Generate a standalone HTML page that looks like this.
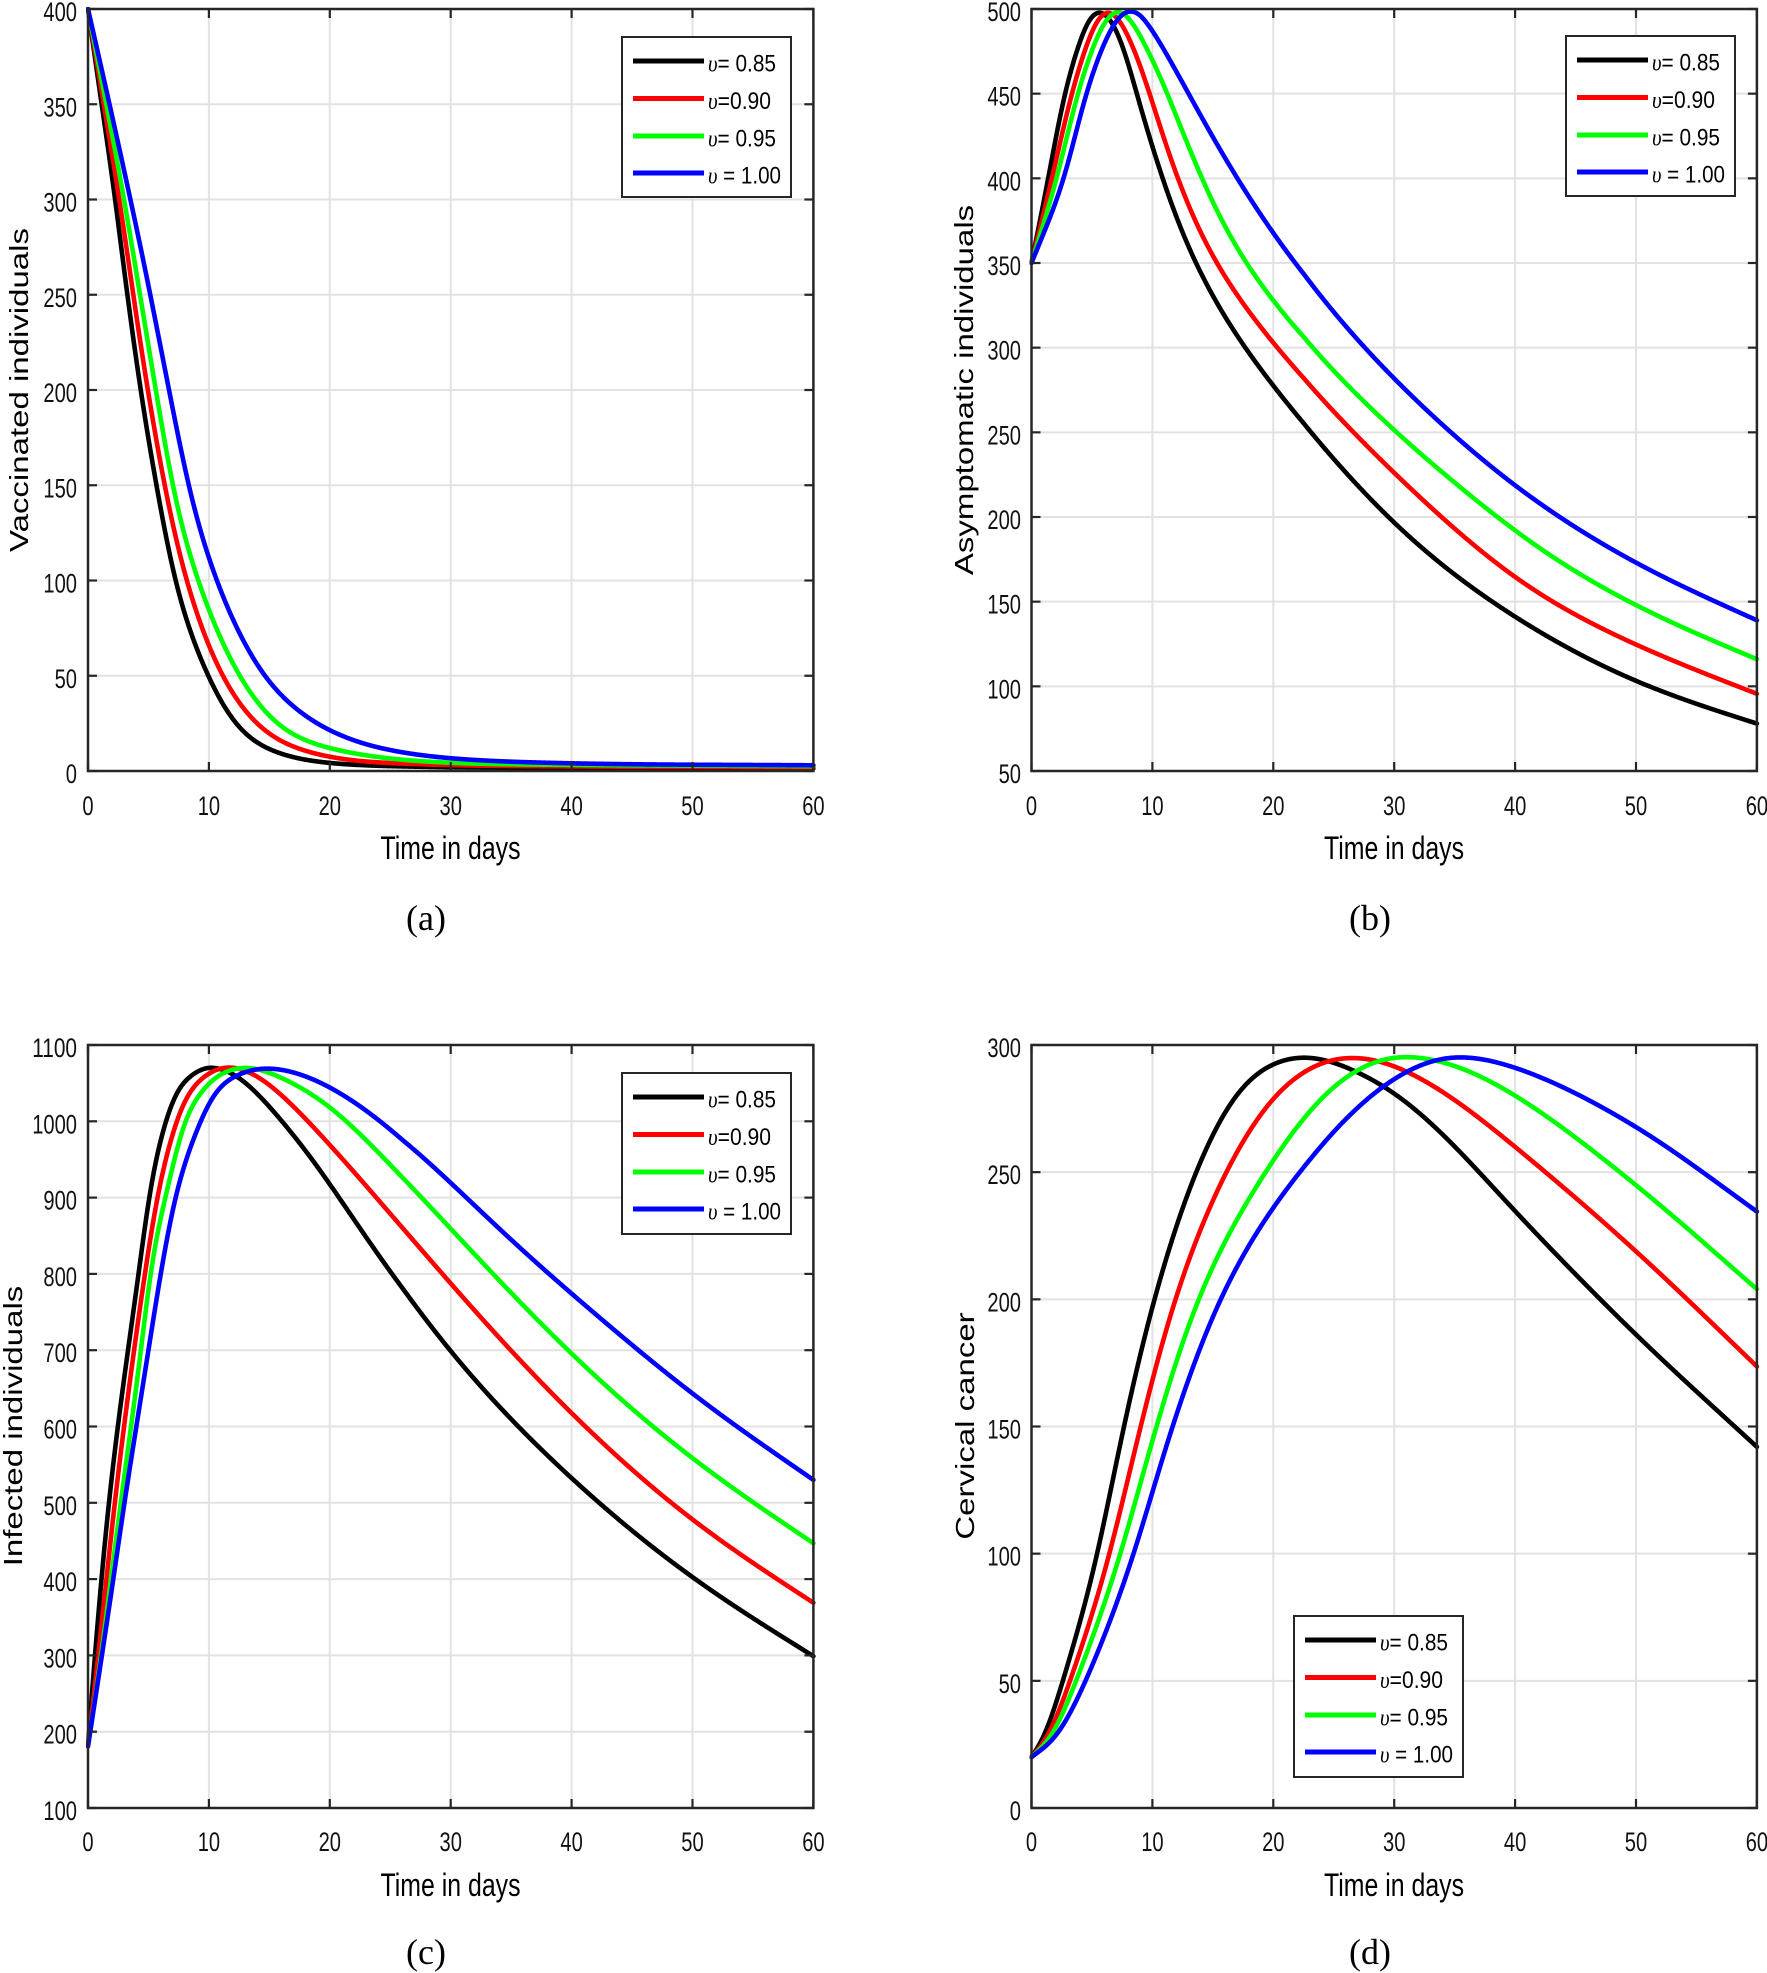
<!DOCTYPE html>
<html><head><meta charset="utf-8"><style>
html,body{margin:0;padding:0;background:#fff;}
svg{display:block;}
.tk{font-family:"Liberation Sans",Arial,sans-serif;font-size:27px;fill:#111;}
.xl{font-family:"Liberation Sans",Arial,sans-serif;font-size:32px;fill:#000;}
.yl{font-family:"Liberation Sans",Arial,sans-serif;font-size:33px;fill:#000;}
.sub{font-family:"Liberation Serif","Times New Roman",serif;font-size:36px;fill:#000;}
.lg{font-family:"Liberation Sans",Arial,sans-serif;font-size:24px;fill:#000;}
.up{font-family:"Liberation Serif","Times New Roman",serif;font-style:italic;}
</style></head><body>
<svg id="s" width="1767" height="1973" viewBox="0 0 1767 1973" xmlns="http://www.w3.org/2000/svg">
<rect x="0" y="0" width="1767" height="1973" fill="#fff"/>
<defs>
<clipPath id="ca"><rect x="86" y="7" width="730" height="766"/></clipPath>
<clipPath id="cb"><rect x="1029.5" y="7" width="730" height="766"/></clipPath>
<clipPath id="cc"><rect x="86" y="1043" width="730" height="767"/></clipPath>
<clipPath id="cd"><rect x="1029.5" y="1043" width="730" height="767"/></clipPath>
</defs>
<g id="grid"></g>
<g id="curves"></g>
<g id="axes"></g>

<!-- Y tick labels panel a -->
<g class="tk" text-anchor="end">
<text x="77" y="783" textLength="11.2" lengthAdjust="spacingAndGlyphs">0</text>
<text x="77" y="687.75" textLength="22.4" lengthAdjust="spacingAndGlyphs">50</text>
<text x="77" y="592.5" textLength="33.6" lengthAdjust="spacingAndGlyphs">100</text>
<text x="77" y="497.25" textLength="33.6" lengthAdjust="spacingAndGlyphs">150</text>
<text x="77" y="402" textLength="33.6" lengthAdjust="spacingAndGlyphs">200</text>
<text x="77" y="306.75" textLength="33.6" lengthAdjust="spacingAndGlyphs">250</text>
<text x="77" y="211.5" textLength="33.6" lengthAdjust="spacingAndGlyphs">300</text>
<text x="77" y="116.25" textLength="33.6" lengthAdjust="spacingAndGlyphs">350</text>
<text x="77" y="21" textLength="33.6" lengthAdjust="spacingAndGlyphs">400</text>
</g>
<!-- Y tick labels panel b -->
<g class="tk" text-anchor="end">
<text x="1021" y="783" textLength="22.4" lengthAdjust="spacingAndGlyphs">50</text>
<text x="1021" y="698.3" textLength="33.6" lengthAdjust="spacingAndGlyphs">100</text>
<text x="1021" y="613.7" textLength="33.6" lengthAdjust="spacingAndGlyphs">150</text>
<text x="1021" y="529" textLength="33.6" lengthAdjust="spacingAndGlyphs">200</text>
<text x="1021" y="444.3" textLength="33.6" lengthAdjust="spacingAndGlyphs">250</text>
<text x="1021" y="359.7" textLength="33.6" lengthAdjust="spacingAndGlyphs">300</text>
<text x="1021" y="275" textLength="33.6" lengthAdjust="spacingAndGlyphs">350</text>
<text x="1021" y="190.3" textLength="33.6" lengthAdjust="spacingAndGlyphs">400</text>
<text x="1021" y="105.7" textLength="33.6" lengthAdjust="spacingAndGlyphs">450</text>
<text x="1021" y="21" textLength="33.6" lengthAdjust="spacingAndGlyphs">500</text>
</g>
<!-- Y tick labels panel c -->
<g class="tk" text-anchor="end">
<text x="77" y="1820" textLength="33.6" lengthAdjust="spacingAndGlyphs">100</text>
<text x="77" y="1743.7" textLength="33.6" lengthAdjust="spacingAndGlyphs">200</text>
<text x="77" y="1667.4" textLength="33.6" lengthAdjust="spacingAndGlyphs">300</text>
<text x="77" y="1591.1" textLength="33.6" lengthAdjust="spacingAndGlyphs">400</text>
<text x="77" y="1514.8" textLength="33.6" lengthAdjust="spacingAndGlyphs">500</text>
<text x="77" y="1438.5" textLength="33.6" lengthAdjust="spacingAndGlyphs">600</text>
<text x="77" y="1362.2" textLength="33.6" lengthAdjust="spacingAndGlyphs">700</text>
<text x="77" y="1285.9" textLength="33.6" lengthAdjust="spacingAndGlyphs">800</text>
<text x="77" y="1209.6" textLength="33.6" lengthAdjust="spacingAndGlyphs">900</text>
<text x="77" y="1133.3" textLength="44.8" lengthAdjust="spacingAndGlyphs">1000</text>
<text x="77" y="1057" textLength="44.8" lengthAdjust="spacingAndGlyphs">1100</text>
</g>
<!-- Y tick labels panel d -->
<g class="tk" text-anchor="end">
<text x="1021" y="1820" textLength="11.2" lengthAdjust="spacingAndGlyphs">0</text>
<text x="1021" y="1692.8" textLength="22.4" lengthAdjust="spacingAndGlyphs">50</text>
<text x="1021" y="1565.7" textLength="33.6" lengthAdjust="spacingAndGlyphs">100</text>
<text x="1021" y="1438.5" textLength="33.6" lengthAdjust="spacingAndGlyphs">150</text>
<text x="1021" y="1311.3" textLength="33.6" lengthAdjust="spacingAndGlyphs">200</text>
<text x="1021" y="1184.2" textLength="33.6" lengthAdjust="spacingAndGlyphs">250</text>
<text x="1021" y="1057" textLength="33.6" lengthAdjust="spacingAndGlyphs">300</text>
</g>

<!-- X tick labels -->
<g class="tk" text-anchor="middle">
<text x="88" y="815" textLength="11.2" lengthAdjust="spacingAndGlyphs">0</text>
<text x="208.9" y="815" textLength="22.4" lengthAdjust="spacingAndGlyphs">10</text>
<text x="329.8" y="815" textLength="22.4" lengthAdjust="spacingAndGlyphs">20</text>
<text x="450.75" y="815" textLength="22.4" lengthAdjust="spacingAndGlyphs">30</text>
<text x="571.6" y="815" textLength="22.4" lengthAdjust="spacingAndGlyphs">40</text>
<text x="692.5" y="815" textLength="22.4" lengthAdjust="spacingAndGlyphs">50</text>
<text x="813.4" y="815" textLength="22.4" lengthAdjust="spacingAndGlyphs">60</text>

<text x="1031.5" y="815" textLength="11.2" lengthAdjust="spacingAndGlyphs">0</text>
<text x="1152.4" y="815" textLength="22.4" lengthAdjust="spacingAndGlyphs">10</text>
<text x="1273.3" y="815" textLength="22.4" lengthAdjust="spacingAndGlyphs">20</text>
<text x="1394.25" y="815" textLength="22.4" lengthAdjust="spacingAndGlyphs">30</text>
<text x="1515.1" y="815" textLength="22.4" lengthAdjust="spacingAndGlyphs">40</text>
<text x="1636" y="815" textLength="22.4" lengthAdjust="spacingAndGlyphs">50</text>
<text x="1756.9" y="815" textLength="22.4" lengthAdjust="spacingAndGlyphs">60</text>

<text x="88" y="1851" textLength="11.2" lengthAdjust="spacingAndGlyphs">0</text>
<text x="208.9" y="1851" textLength="22.4" lengthAdjust="spacingAndGlyphs">10</text>
<text x="329.8" y="1851" textLength="22.4" lengthAdjust="spacingAndGlyphs">20</text>
<text x="450.75" y="1851" textLength="22.4" lengthAdjust="spacingAndGlyphs">30</text>
<text x="571.6" y="1851" textLength="22.4" lengthAdjust="spacingAndGlyphs">40</text>
<text x="692.5" y="1851" textLength="22.4" lengthAdjust="spacingAndGlyphs">50</text>
<text x="813.4" y="1851" textLength="22.4" lengthAdjust="spacingAndGlyphs">60</text>

<text x="1031.5" y="1851" textLength="11.2" lengthAdjust="spacingAndGlyphs">0</text>
<text x="1152.4" y="1851" textLength="22.4" lengthAdjust="spacingAndGlyphs">10</text>
<text x="1273.3" y="1851" textLength="22.4" lengthAdjust="spacingAndGlyphs">20</text>
<text x="1394.25" y="1851" textLength="22.4" lengthAdjust="spacingAndGlyphs">30</text>
<text x="1515.1" y="1851" textLength="22.4" lengthAdjust="spacingAndGlyphs">40</text>
<text x="1636" y="1851" textLength="22.4" lengthAdjust="spacingAndGlyphs">50</text>
<text x="1756.9" y="1851" textLength="22.4" lengthAdjust="spacingAndGlyphs">60</text>
</g>

<!-- X axis labels -->
<g class="xl" text-anchor="middle">
<text x="450.5" y="859" textLength="140" lengthAdjust="spacingAndGlyphs">Time in days</text>
<text x="1394" y="859" textLength="140" lengthAdjust="spacingAndGlyphs">Time in days</text>
<text x="450.5" y="1896" textLength="140" lengthAdjust="spacingAndGlyphs">Time in days</text>
<text x="1394" y="1896" textLength="140" lengthAdjust="spacingAndGlyphs">Time in days</text>
</g>

<!-- Y axis labels -->
<g class="yl" text-anchor="middle">
<text transform="translate(28,390) rotate(-90) scale(1,0.78)">Vaccinated individuals</text>
<text transform="translate(973,390) rotate(-90) scale(1,0.78)">Asymptomatic individuals</text>
<text transform="translate(22,1426) rotate(-90) scale(1,0.78)">Infected individuals</text>
<text transform="translate(974,1426) rotate(-90) scale(1,0.78)">Cervical cancer</text>
</g>

<!-- Sub labels -->
<g class="sub" text-anchor="middle">
<text x="426" y="930">(a)</text>
<text x="1370" y="930">(b)</text>
<text x="426" y="1964">(c)</text>
<text x="1370" y="1964">(d)</text>
</g>

<!-- Legends -->
<g transform="translate(622,37)">
<rect x="0" y="0" width="169" height="160" fill="#fff" stroke="#262626" stroke-width="2"/>
<line x1="11" x2="82" y1="24" y2="24" stroke="#000" stroke-width="5"/>
<line x1="11" x2="82" y1="61.5" y2="61.5" stroke="#ff0000" stroke-width="5"/>
<line x1="11" x2="82" y1="99" y2="99" stroke="#00ff00" stroke-width="5"/>
<line x1="11" x2="82" y1="136" y2="136" stroke="#0000ff" stroke-width="5"/>
<text class="lg" x="86" y="34.5" textLength="68" lengthAdjust="spacingAndGlyphs"><tspan class="up">υ</tspan>= 0.85</text>
<text class="lg" x="86" y="72" textLength="63" lengthAdjust="spacingAndGlyphs"><tspan class="up">υ</tspan>=0.90</text>
<text class="lg" x="86" y="109.5" textLength="68" lengthAdjust="spacingAndGlyphs"><tspan class="up">υ</tspan>= 0.95</text>
<text class="lg" x="86" y="146.5" textLength="73" lengthAdjust="spacingAndGlyphs"><tspan class="up">υ</tspan> = 1.00</text>
</g>
<g transform="translate(1566,36)">
<rect x="0" y="0" width="169" height="160" fill="#fff" stroke="#262626" stroke-width="2"/>
<line x1="11" x2="82" y1="24" y2="24" stroke="#000" stroke-width="5"/>
<line x1="11" x2="82" y1="61.5" y2="61.5" stroke="#ff0000" stroke-width="5"/>
<line x1="11" x2="82" y1="99" y2="99" stroke="#00ff00" stroke-width="5"/>
<line x1="11" x2="82" y1="136" y2="136" stroke="#0000ff" stroke-width="5"/>
<text class="lg" x="86" y="34.5" textLength="68" lengthAdjust="spacingAndGlyphs"><tspan class="up">υ</tspan>= 0.85</text>
<text class="lg" x="86" y="72" textLength="63" lengthAdjust="spacingAndGlyphs"><tspan class="up">υ</tspan>=0.90</text>
<text class="lg" x="86" y="109.5" textLength="68" lengthAdjust="spacingAndGlyphs"><tspan class="up">υ</tspan>= 0.95</text>
<text class="lg" x="86" y="146.5" textLength="73" lengthAdjust="spacingAndGlyphs"><tspan class="up">υ</tspan> = 1.00</text>
</g>
<g transform="translate(622,1073)">
<rect x="0" y="0" width="169" height="161" fill="#fff" stroke="#262626" stroke-width="2"/>
<line x1="11" x2="82" y1="24" y2="24" stroke="#000" stroke-width="5"/>
<line x1="11" x2="82" y1="61.5" y2="61.5" stroke="#ff0000" stroke-width="5"/>
<line x1="11" x2="82" y1="99" y2="99" stroke="#00ff00" stroke-width="5"/>
<line x1="11" x2="82" y1="136" y2="136" stroke="#0000ff" stroke-width="5"/>
<text class="lg" x="86" y="34.5" textLength="68" lengthAdjust="spacingAndGlyphs"><tspan class="up">υ</tspan>= 0.85</text>
<text class="lg" x="86" y="72" textLength="63" lengthAdjust="spacingAndGlyphs"><tspan class="up">υ</tspan>=0.90</text>
<text class="lg" x="86" y="109.5" textLength="68" lengthAdjust="spacingAndGlyphs"><tspan class="up">υ</tspan>= 0.95</text>
<text class="lg" x="86" y="146.5" textLength="73" lengthAdjust="spacingAndGlyphs"><tspan class="up">υ</tspan> = 1.00</text>
</g>
<g transform="translate(1294,1616)">
<rect x="0" y="0" width="169" height="161" fill="#fff" stroke="#262626" stroke-width="2"/>
<line x1="11" x2="82" y1="24" y2="24" stroke="#000" stroke-width="5"/>
<line x1="11" x2="82" y1="61.5" y2="61.5" stroke="#ff0000" stroke-width="5"/>
<line x1="11" x2="82" y1="99" y2="99" stroke="#00ff00" stroke-width="5"/>
<line x1="11" x2="82" y1="136" y2="136" stroke="#0000ff" stroke-width="5"/>
<text class="lg" x="86" y="34.5" textLength="68" lengthAdjust="spacingAndGlyphs"><tspan class="up">υ</tspan>= 0.85</text>
<text class="lg" x="86" y="72" textLength="63" lengthAdjust="spacingAndGlyphs"><tspan class="up">υ</tspan>=0.90</text>
<text class="lg" x="86" y="109.5" textLength="68" lengthAdjust="spacingAndGlyphs"><tspan class="up">υ</tspan>= 0.95</text>
<text class="lg" x="86" y="146.5" textLength="73" lengthAdjust="spacingAndGlyphs"><tspan class="up">υ</tspan> = 1.00</text>
</g>
</svg>
<script>
(function(){
var NS="http://www.w3.org/2000/svg";
function el(tag,attrs,parent){var e=document.createElementNS(NS,tag);for(var k in attrs)e.setAttribute(k,attrs[k]);parent.appendChild(e);return e;}
function mono(pts){
  var n=pts.length,xs=[],ys=[],d=[],m=[],i;
  for(i=0;i<n;i++){xs.push(pts[i][0]);ys.push(pts[i][1]);}
  for(i=0;i<n-1;i++)d[i]=(ys[i+1]-ys[i])/(xs[i+1]-xs[i]);
  m[0]=d[0];m[n-1]=d[n-2];
  for(i=1;i<n-1;i++){ if(d[i-1]*d[i]<=0)m[i]=0; else m[i]=(d[i-1]+d[i])/2; }
  for(i=0;i<n-1;i++){
    if(d[i]===0){m[i]=0;m[i+1]=0;continue;}
    var a=m[i]/d[i],b=m[i+1]/d[i],s=a*a+b*b;
    if(s>9){var t=3/Math.sqrt(s);m[i]=t*a*d[i];m[i+1]=t*b*d[i];}
  }
  return function(x){
    var j=0;while(j<n-2&&x>xs[j+1])j++;
    var h=xs[j+1]-xs[j],t=(x-xs[j])/h,t2=t*t,t3=t2*t;
    return (2*t3-3*t2+1)*ys[j]+(t3-2*t2+t)*h*m[j]+(-2*t3+3*t2)*ys[j+1]+(t3-t2)*h*m[j+1];
  };
}
function vsmooth(y,sigf,DT){
  var N=y.length,out=[],i,k;
  function at(j){
    if(j<0)return 2*y[0]-y[-j];
    if(j>N-1)return 2*y[N-1]-y[2*(N-1)-j];
    return y[j];
  }
  for(i=0;i<N;i++){
    var s=sigf(i*DT)/DT; if(s<0.5){out.push(y[i]);continue;}
    var R=Math.ceil(3*s),sw=0,sum=0;
    for(k=-R;k<=R;k++){var w=Math.exp(-k*k/(2*s*s));sw+=w;sum+=w*at(i+k);}
    out.push(sum/sw);
  }
  return out;
}
function ramp(s0,tStart,rate,cap){return function(t){return Math.min(cap,s0+rate*Math.max(0,t-tStart));};}
var P={
 a:{x0:88,x1:813.4,y0:9,y1:771,vmin:0,vmax:400,step:50,clip:"ca",sig:ramp(0.5,2,0.08,3),
   data:{
   k:[[0,400],[1.08,352],[2.27,300],[3.23,250],[4.34,200],[4.81,179],[5.67,150],[7.1,100],[9.87,50],[12.4,21.5],[16.5,7.5],[20,4],[27.6,2.2],[40,1.6],[60,1.4]],
   r:[[0,400],[1.25,352],[2.6,300],[3.75,250],[4.9,200],[5.5,179],[6.28,150],[8.07,100],[11,50],[14.3,21.5],[18.6,9],[27.6,3.5],[40,2.4],[60,2]],
   g:[[0,400],[1.45,352],[3.0,300],[4.3,250],[5.6,200],[6.2,179],[6.88,150],[9.05,100],[12.4,50],[16,21.5],[20,11.7],[27.6,4.9],[40,3.2],[60,2.5]],
   b:[[0,400],[1.71,352],[3.51,300],[5.17,250],[6.69,200],[7.38,179],[8.2,150],[10.56,100],[14.4,50],[18.7,25],[21.5,16.4],[25,10.3],[27.6,8.0],[30,6.3],[40,4],[60,3]]
 }},
 b:{x0:1031.5,x1:1756.9,y0:9,y1:771,vmin:50,vmax:500,step:50,clip:"cb",sig:ramp(0.6,9,0.25,4),
   data:{
   k:[[0,350],[1.4,400],[2.7,450],[3.77,476],[4.5,492],[5.5,500],[6.6,494],[7.6,478],[8.7,450],[10.8,400],[13.4,350],[17.4,300],[23,250],[30,194],[40,140],[50,102],[60,78]],
   r:[[0,350],[1.7,400],[3.3,450],[4.5,478],[5.3,493],[6.3,500],[7.3,494],[8.5,476],[9.8,450],[12.0,400],[15.0,350],[20.1,300],[26.5,250],[33.8,200],[40,162],[50,124],[60,95.6]],
   g:[[0,350],[2.1,400],[3.8,450],[5.2,480],[6.1,494],[7.2,500],[8.2,494],[9.6,476],[11.3,450],[14,400],[17.3,350],[23,300],[30,250],[38.4,200],[40,190],[50,147],[60,116]],
   b:[[0,350],[2.7,400],[4.5,450],[6.0,480],[7.1,495],[8.2,500],[9.3,495],[11,476],[13,450],[16.9,400],[21.5,350],[27.3,300],[35,247],[40,217],[50,172],[60,139]]
 }},
 c:{x0:88,x1:813.4,y0:1045,y1:1808,vmin:100,vmax:1100,step:100,clip:"cc",sig:ramp(0.5,12,0.25,4),
   data:{
   k:[[0,181],[0.55,300],[1.7,500],[3.3,700],[4.2,800],[5.0,900],[5.6,950],[6.4,1000],[7.3,1038],[8.6,1061],[10.1,1071],[12.7,1055],[15.2,1017],[16.1,1000],[20,921],[24.8,804],[30,693],[40,530],[50,400],[60,299]],
   r:[[0,181],[0.86,300],[2.2,500],[3.8,700],[4.7,800],[5.7,900],[7.3,1000],[8.3,1036],[9.8,1061],[11.6,1071],[13.5,1064],[15.2,1047],[17.7,1010],[20,970],[25,880],[30,786],[40,615],[50,475],[60,369]],
   g:[[0,181],[1.1,300],[2.7,500],[4.4,700],[5.1,800],[6.4,900],[8.0,1000],[9.5,1041],[11,1062],[13.5,1071],[16,1058],[18,1042],[20,1022],[22,998],[25,945],[30,859],[40,693],[50,556],[60,447]],
   b:[[0,181],[1.15,300],[2.1,400],[3.0,500],[4.0,600],[5.0,700],[6.0,800],[7.2,900],[9.3,1000],[10.6,1039],[12.4,1061],[15.2,1071],[17.5,1064],[20,1048],[25,995],[30,921],[34.5,849],[40,774],[50,641],[60,530]]
 }},
 d:{x0:1031.5,x1:1756.9,y0:1045,y1:1808,vmin:0,vmax:300,step:50,clip:"cd",sig:ramp(0.6,0,0.06,2.2),
   data:{
   k:[[0,20],[1.2,29],[2.6,50],[5.5,100],[7.6,150],[10.1,200],[13.5,250],[17.2,284],[19.9,293.5],[23,296.5],[26.8,290],[30,282],[34.5,263],[40,234.5],[50,186],[60,142]],
   r:[[0,20],[1.5,29],[3.2,50],[6.5,100],[9,150],[11.8,200],[16,250],[20,280.5],[23,292],[26.4,296.5],[30,292.5],[34.5,280.5],[40,260],[50,219],[60,173.6]],
   g:[[0,20],[1.8,29],[3.7,50],[7.4,100],[10.3,150],[13.7,200],[19.3,250],[25,285],[30.3,296.5],[35,292.5],[40,280.5],[50,245],[60,204]],
   b:[[0,20],[2.2,29],[4.5,50],[8.5,100],[11.6,150],[15.5,200],[18,222],[20,237],[22.5,252],[26,272],[30,287.5],[34.7,296.5],[40,291.5],[50,268],[60,234.5]]
 }}
};
var cols={k:"#000000",r:"#ff0000",g:"#00ff00",b:"#0000ff"};
var G=document.getElementById("grid"),C=document.getElementById("curves"),A=document.getElementById("axes");
var DT=0.05,NS_=1200;
for(var key in P){
  var p=P[key];
  var sx=function(t){return p.x0+(p.x1-p.x0)*t/60;};
  var sy=function(v){return p.y1-(p.y1-p.y0)*(v-p.vmin)/(p.vmax-p.vmin);};
  for(var t=10;t<60;t+=10){var x=sx(t);el("line",{x1:x,x2:x,y1:p.y0,y2:p.y1,stroke:"#e2e2e2","stroke-width":2},G);}
  for(var v=p.vmin+p.step;v<p.vmax-1e-6;v+=p.step){var y=sy(v);el("line",{x1:p.x0,x2:p.x1,y1:y,y2:y,stroke:"#e2e2e2","stroke-width":2},G);}
  var g=el("g",{"clip-path":"url(#"+p.clip+")"},C);
  ["k","r","g","b"].forEach(function(c){
    var f=mono(p.data[c]),ys=[],i;
    for(i=0;i<=NS_;i++)ys.push(f(i*DT));
    ys=vsmooth(ys,p.sig,DT);
    var d="";
    for(i=0;i<=NS_;i++){d+=(i?"L":"M")+sx(i*DT).toFixed(2)+" "+sy(ys[i]).toFixed(2);}
    el("path",{d:d,fill:"none",stroke:cols[c],"stroke-width":4.6,"stroke-linejoin":"round","stroke-linecap":"round"},g);
  });
  var tl=9;
  for(var t2=0;t2<=60;t2+=10){var x2=sx(t2);
    el("line",{x1:x2,x2:x2,y1:p.y1,y2:p.y1-tl,stroke:"#262626","stroke-width":2.2},A);
    el("line",{x1:x2,x2:x2,y1:p.y0,y2:p.y0+tl,stroke:"#262626","stroke-width":2.2},A);}
  for(var v2=p.vmin;v2<=p.vmax+1e-6;v2+=p.step){var y2=sy(v2);
    el("line",{x1:p.x0,x2:p.x0+tl,y1:y2,y2:y2,stroke:"#262626","stroke-width":2.2},A);
    el("line",{x1:p.x1,x2:p.x1-tl,y1:y2,y2:y2,stroke:"#262626","stroke-width":2.2},A);}
  el("rect",{x:p.x0,y:p.y0,width:p.x1-p.x0,height:p.y1-p.y0,fill:"none",stroke:"#262626","stroke-width":2.5},A);
}
})();
</script>
</body></html>
